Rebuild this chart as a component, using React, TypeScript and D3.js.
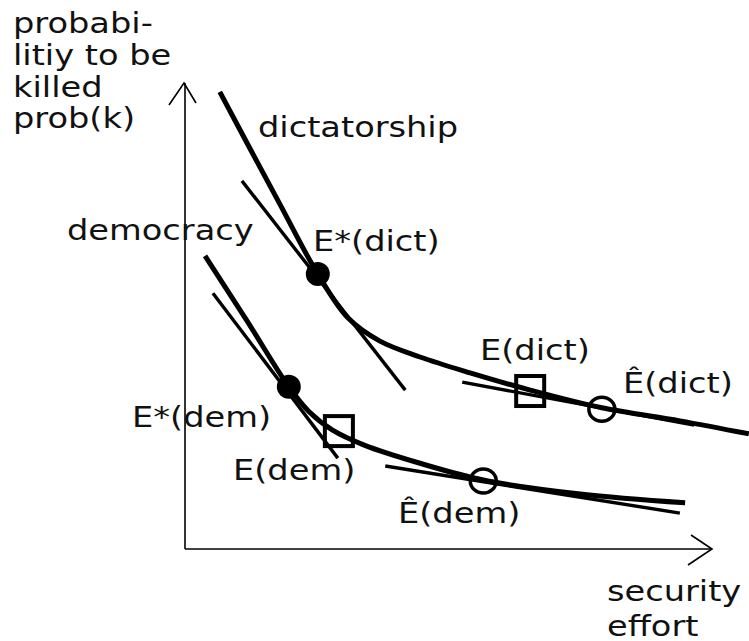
import * as d3 from "d3";

// curve points (security effort, probability to be killed)
const dictX = [6.6, 12.3, 18.0, 25.2, 31.0, 37.0, 44.6, 54.1, 65.5, 79.1, 93.9, 107.0];
const dictY = [98.1, 86.0, 74.0, 59.0, 49.5, 44.6, 41.2, 37.8, 34.1, 30.3, 27.5, 24.7];

const demX = [3.8, 11.8, 19.7, 23.5, 28.0, 34.0, 44.6, 56.6, 75.0, 94.9];
const demY = [62.9, 48.9, 34.8, 29.5, 25.5, 22.3, 18.4, 14.8, 11.8, 9.9];

// tangent segments [x1, y1, x2, y2]
const tangents = [
  [10.8, 79.0, 41.8, 34.1],
  [52.6, 35.8, 96.6, 26.6],
  [5.3, 54.9, 29.0, 19.5],
  [38.0, 17.8, 93.9, 7.7],
];

// equilibrium points
const starPts = [
  [25.2, 59.0],
  [19.7, 34.8],
];
const squarePts = [
  [65.5, 33.9],
  [29.2, 25.3],
];
const hatPts = [
  [79.1, 30.0],
  [56.6, 14.6],
];

const W = 749;
const H = 641;

const x = d3.scaleLinear().domain([0, 100]).range([185, 712]);
const y = d3.scaleLinear().domain([0, 100]).range([549, 83]);

const pathFor = (xs: number[], ys: number[]) => {
  const pts = xs.map((v, i) => [x(v), y(ys[i])] as [number, number]);
  return d3.line().curve(d3.curveCatmullRom.alpha(0.5))(pts) || "";
};

const font = "'DejaVu Sans', Verdana, sans-serif";

const Label = ({ tx, ty, children }: { tx: number; ty: number; children: any }) => (
  <text
    transform={`translate(${tx},${ty}) scale(1.16,1)`}
    fontFamily={font}
    fontSize={29}
    fill="#111"
  >
    {children}
  </text>
);

export default function App() {
  const x0 = x(0);
  const y0 = y(0);
  const yTop = y(100);
  const xEnd = x(100);
  return (
    <svg
      width={W}
      height={H}
      style={{ position: "absolute", left: 0, top: 0, background: "#fff" }}
    >
      <rect width={W} height={H} fill="#fff" />

      {/* axes */}
      <g stroke="#000" strokeWidth={1.6} fill="none">
        <line x1={x0} y1={y0} x2={x0} y2={yTop} />
        <line x1={x0} y1={y0} x2={xEnd} y2={y0} />
        <polyline points={`${x0 - 16},${yTop + 22} ${x0 - 1},${yTop} ${x0 + 11},${yTop + 20}`} />
        <polyline points={`${xEnd - 21},${y0 - 14} ${xEnd},${y0} ${xEnd - 24},${y0 + 16}`} />
      </g>

      {/* tangents */}
      <g stroke="#000" strokeWidth={3.4} fill="none">
        {tangents.map((t, i) => (
          <line key={i} x1={x(t[0])} y1={y(t[1])} x2={x(t[2])} y2={y(t[3])} />
        ))}
      </g>

      {/* curves */}
      <path d={pathFor(dictX, dictY)} stroke="#000" strokeWidth={5} fill="none" />
      <path d={pathFor(demX, demY)} stroke="#000" strokeWidth={5} fill="none" />

      {/* markers */}
      {starPts.map((p, i) => (
        <circle key={"s" + i} cx={x(p[0])} cy={y(p[1])} r={12} fill="#000" />
      ))}
      {squarePts.map((p, i) => (
        <rect
          key={"q" + i}
          x={x(p[0]) - 14}
          y={y(p[1]) - 15}
          width={28}
          height={30}
          fill="none"
          stroke="#000"
          strokeWidth={4}
        />
      ))}
      {hatPts.map((p, i) => (
        <ellipse
          key={"h" + i}
          cx={x(p[0])}
          cy={y(p[1])}
          rx={13}
          ry={12}
          fill="none"
          stroke="#000"
          strokeWidth={3.5}
        />
      ))}

      {/* text */}
      <Label tx={13} ty={33}>probabi-</Label>
      <Label tx={13} ty={65}>litiy to be</Label>
      <Label tx={13} ty={97}>killed</Label>
      <Label tx={13} ty={128}>prob(k)</Label>
      <Label tx={258} ty={137}>dictatorship</Label>
      <Label tx={67} ty={240}>democracy</Label>
      <Label tx={313} ty={251}>E*(dict)</Label>
      <Label tx={132} ty={427}>E*(dem)</Label>
      <Label tx={480} ty={360}>E(dict)</Label>
      <Label tx={623} ty={393}>Ê(dict)</Label>
      <Label tx={233} ty={480}>E(dem)</Label>
      <Label tx={398} ty={523}>Ê(dem)</Label>
      <Label tx={607} ty={601}>security</Label>
      <Label tx={607} ty={636}>effort</Label>
    </svg>
  );
}
